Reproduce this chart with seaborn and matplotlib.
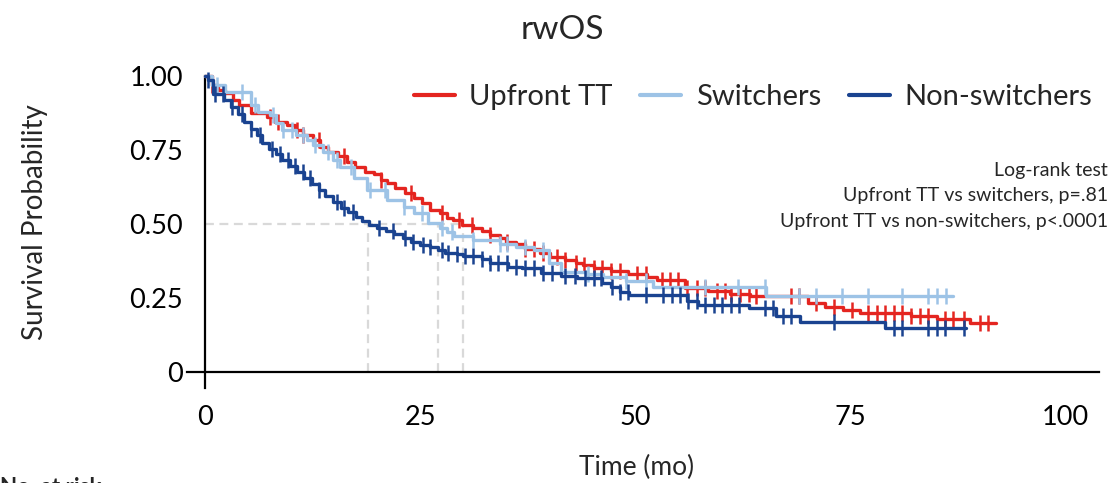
import numpy as np
import pandas as pd
import matplotlib
matplotlib.use("Agg")
import matplotlib.pyplot as plt
from matplotlib.lines import Line2D
import seaborn as sns

# ---------------- data ----------------
groups = ["Upfront TT", "Switchers", "Non-switchers"]
colors = ["#E42520", "#9DC3E6", "#1A4390"]

upfront_times = [0.8, 1.5, 2.3, 3.3, 4.0, 5.4, 7.2, 8.1, 9.5, 10.5, 11.4, 12.6, 13.4, 14.3,
                 15.5, 16.5, 17.4, 18.6, 19.6, 20.5, 21.2, 22.1, 23.3, 24.3, 25.2, 26.2,
                 27.3, 28.1, 28.8, 29.9, 31.2, 32.2, 33.1, 34.3, 35.0, 36.2, 37.2, 38.9,
                 40.1, 41.9, 43.1, 44.0, 45.2, 47.2, 49.2, 51.4, 52.5, 55.8, 58.5, 61.0,
                 63.4, 70.1, 72.1, 74.2, 76.2, 82.1, 85.1, 89.0]
upfront_surv = [0.97, 0.953, 0.941, 0.919, 0.902, 0.874, 0.863, 0.846, 0.834, 0.818, 0.80,
                0.784, 0.761, 0.744, 0.73, 0.71, 0.694, 0.677, 0.668, 0.65, 0.637, 0.62,
                0.604, 0.587, 0.57, 0.547, 0.536, 0.52, 0.512, 0.498, 0.488, 0.477, 0.463,
                0.452, 0.44, 0.431, 0.414, 0.401, 0.39, 0.378, 0.367, 0.36, 0.352, 0.342,
                0.33, 0.32, 0.311, 0.283, 0.272, 0.265, 0.257, 0.234, 0.221, 0.209, 0.198,
                0.189, 0.178, 0.164]
upfront_end = 92.0
upfront_censor = [0.8, 7.6, 8.5, 10.7, 11.4, 13.2, 16.1, 20.5, 24.0, 27.5, 29.5, 31.0, 33.1,
                  35.1, 37.2, 38.2, 39.3, 40.9, 41.9, 43.1, 44.1, 45.2, 46.2, 47.2, 48.2,
                  50.2, 51.3, 53.1, 54.1, 55.0, 56.0, 57.2, 58.1, 59.5, 60.5, 61.2, 62.2,
                  63.2, 64.1, 68.1, 69.1, 71.1, 73.1, 75.2, 77.1, 78.1, 79.1, 80.1, 81.1,
                  82.1, 83.1, 84.1, 86.0, 87.0, 88.2, 90.1, 91.1]

switch_times = [0.8, 2.3, 5.4, 6.2, 7.6, 8.3, 9.0, 10.6, 11.8, 12.5, 13.7, 14.9, 15.7, 17.3,
                18.8, 21.2, 23.1, 24.3, 25.9, 27.3, 28.1, 29.0, 31.2, 34.3, 36.2, 38.2,
                40.0, 41.4, 44.4, 46.3, 49.0, 52.1, 65.2]
switch_surv = [0.97, 0.947, 0.902, 0.88, 0.868, 0.84, 0.818, 0.80, 0.784, 0.767, 0.744,
               0.716, 0.694, 0.654, 0.615, 0.581, 0.558, 0.536, 0.505, 0.485, 0.474, 0.459,
               0.446, 0.431, 0.423, 0.412, 0.367, 0.339, 0.330, 0.322, 0.309, 0.286, 0.258]
switch_end = 87.0
switch_censor = [1.4, 4.3, 5.8, 7.9, 9.1, 10.1, 11.4, 12.8, 14.3, 15.3, 17.0, 19.2, 20.9,
                 23.1, 25.2, 27.5, 28.7, 31.2, 34.3, 35.1, 37.2, 39.3, 44.5, 49.0, 51.3,
                 58.1, 62.0, 65.1, 69.1, 71.1, 74.1, 77.1, 81.1, 84.1, 85.1, 86.2]

nonsw_times = [0.4, 0.9, 2.2, 3.0, 3.8, 4.5, 5.3, 6.0, 6.6, 7.4, 8.2, 9.0, 9.9, 10.7, 11.5,
               12.4, 13.2, 14.0, 14.9, 15.8, 16.6, 17.5, 18.3, 19.1, 20.0, 21.0, 22.0, 23.0,
               24.0, 25.0, 26.2, 27.1, 27.9, 29.3, 30.0, 32.2, 33.1, 35.2, 36.8, 39.1, 41.4,
               43.3, 46.2, 47.2, 48.3, 49.3, 56.1, 57.3, 63.2, 66.4, 69.2, 79.1]
nonsw_surv = [0.985, 0.94, 0.92, 0.896, 0.87, 0.846, 0.82, 0.80, 0.775, 0.755, 0.735, 0.715,
              0.695, 0.675, 0.655, 0.635, 0.615, 0.595, 0.575, 0.555, 0.54, 0.525, 0.51,
              0.497, 0.487, 0.475, 0.465, 0.452, 0.44, 0.429, 0.421, 0.412, 0.401, 0.398,
              0.392, 0.381, 0.369, 0.356, 0.350, 0.335, 0.324, 0.316, 0.30, 0.286, 0.271,
              0.26, 0.241, 0.228, 0.215, 0.19, 0.168, 0.15]
nonsw_end = 88.5
nonsw_censor = [0.4, 1.2, 2.1, 3.1, 4.3, 5.4, 6.4, 7.8, 8.7, 9.7, 10.5, 11.4, 12.2, 13.2,
                15.3, 16.1, 17.2, 20.2, 21.9, 23.3, 24.2, 25.4, 26.2, 27.5, 28.3, 29.3,
                30.2, 31.2, 32.2, 33.1, 34.1, 35.1, 36.2, 37.2, 38.2, 39.3, 40.3, 41.9,
                43.0, 44.2, 45.2, 46.1, 47.3, 48.3, 49.2, 51.3, 53.3, 54.3, 55.2, 56.2,
                57.2, 58.1, 59.2, 60.1, 61.2, 62.1, 65.1, 66.1, 67.2, 68.1, 73.1, 80.1,
                81.1, 84.1, 85.1, 86.0, 88.2]

medians = [30.0, 27.1, 19.0]

x_ticks = [0, 25, 50, 75, 100]
y_ticks = [0, 0.25, 0.50, 0.75, 1.00]
y_tick_labels = ["0", "0.25", "0.50", "0.75", "1.00"]

title = "rwOS"
x_label = "Time (mo)"
y_label = "Survival Probability"
test_lines = ["Log-rank test", "Upfront TT vs switchers, p=.81",
              "Upfront TT vs non-switchers, p<.0001"]
risk_label = "No. at risk"

# ---------------- styling ----------------
sns.set_style("white")
plt.rcParams["font.family"] = ["Lato", "DejaVu Sans"]

fig = plt.figure(figsize=(11.15, 4.83), dpi=100)
ax = fig.add_axes([187 / 1115, 95 / 483, 912.4 / 1115, 312 / 483])

series = [
    (upfront_times, upfront_surv, upfront_end, upfront_censor),
    (switch_times, switch_surv, switch_end, switch_censor),
    (nonsw_times, nonsw_surv, nonsw_end, nonsw_censor),
]

# median reference lines
gray = "#D9D9D9"
ax.plot([0, max(medians)], [0.5, 0.5], color=gray, lw=1.6, ls=(0, (4, 2.5)), zorder=1)
for m in medians:
    ax.plot([m, m], [0, 0.5], color=gray, lw=1.6, ls=(0, (4, 2.5)), zorder=1)

handles = []
for name, col, (t, s, end, cens) in zip(groups, colors, series):
    xs = [0.0] + list(t) + [end]
    ys = [1.0] + list(s) + [s[-1]]
    df = pd.DataFrame({"t": xs, "S": ys})
    sns.lineplot(data=df, x="t", y="S", ax=ax, color=col, lw=2.4, sort=False,
                 estimator=None, drawstyle="steps-post", clip_on=False, zorder=3)
    tt = np.asarray(xs)
    yy = np.asarray(ys)
    idx = np.searchsorted(tt, np.asarray(cens), side="right") - 1
    dc = pd.DataFrame({"t": cens, "S": yy[idx]})
    sns.lineplot(data=dc, x="t", y="S", ax=ax, color=col, linestyle="", marker="|",
                 markersize=12, markeredgewidth=1.8, markeredgecolor=col,
                 markerfacecolor=col, sort=False, estimator=None,
                 clip_on=False, zorder=3)
    handles.append(Line2D([0], [0], color=col, lw=3))

ax.set_xlim(-2.1, 104)
ax.set_ylim(-0.054, 1.0)
for sp in ["top", "right"]:
    ax.spines[sp].set_visible(False)
ax.spines["left"].set_position(("data", 0))
ax.spines["bottom"].set_position(("data", 0))
for sp in ["left", "bottom"]:
    ax.spines[sp].set_color("black")
    ax.spines[sp].set_linewidth(1.6)
ax.spines["left"].set_bounds(-0.054, 1.0)

ax.set_xticks(x_ticks)
ax.set_xticklabels([str(v) for v in x_ticks])
ax.set_yticks(y_ticks)
ax.set_yticklabels(y_tick_labels)
ax.tick_params(axis="both", direction="out", length=10, width=1.6, colors="black",
               labelsize=19.5, pad=6)
ax.tick_params(axis="x", pad=14)
ax.set_xlabel("")
ax.set_ylabel("")
ax.grid(False)

fig.text(562 / 1115, 1 - 30 / 483, title, ha="center", va="center", fontsize=24)
fig.text(637 / 1115, 1 - 467 / 483, x_label, ha="center", va="center", fontsize=19)
fig.text(35 / 1115, 1 - 222 / 483, y_label, ha="center", va="center", rotation=90,
         fontsize=20)

for i, line in enumerate(test_lines):
    fig.text(1108 / 1115, 1 - (170 + 26 * i) / 483, line, ha="right", va="center",
             fontsize=14)

fig.text(0.0, 1 - 477 / 483, risk_label, ha="left", va="top", fontsize=16,
         fontweight="bold")

ax.legend(handles, groups, ncol=3, frameon=False, fontsize=21, handlelength=1.4,
          handletextpad=0.5, columnspacing=0.95, borderpad=0, borderaxespad=0,
          loc="center right", bbox_to_anchor=(1092 / 1115, 1 - 97 / 483),
          bbox_transform=fig.transFigure)

fig.savefig("out.png", dpi=100)
